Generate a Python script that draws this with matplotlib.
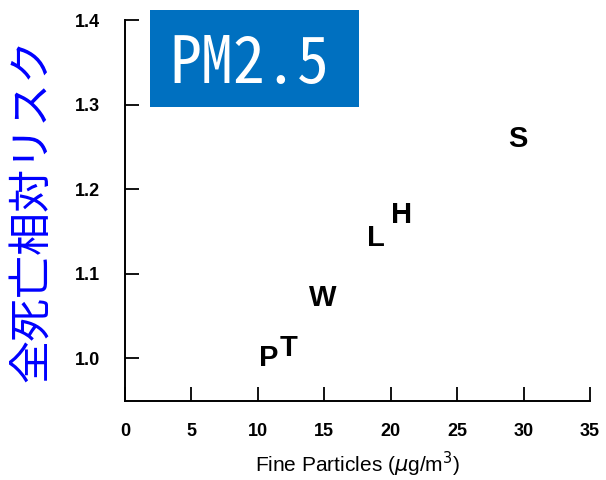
import matplotlib
matplotlib.use('Agg')
import matplotlib.pyplot as plt
from matplotlib.patches import Rectangle

# six cities: letter, fine particles, relative risk
cities = ['P', 'T', 'W', 'L', 'H', 'S']
pm25 = [10.85, 12.3, 14.9, 18.85, 20.8, 29.6]
rel_risk = [1.001, 1.012, 1.071, 1.142, 1.170, 1.259]

xticks = [0, 5, 10, 15, 20, 25, 30, 35]
yticks = [1.0, 1.1, 1.2, 1.3, 1.4]

fig = plt.figure(figsize=(6.06, 4.8), dpi=100)
ax = fig.add_axes([0.2063, 0.165, 0.7673, 0.7933])

for c, x, y in zip(cities, pm25, rel_risk):
    ax.text(x, y, c, ha='center', va='center', fontsize=21, fontweight='bold',
            family='Liberation Sans', color='black')

ax.set_xlim(0, 35)
ax.set_ylim(0.95, 1.4)
ax.set_xticks(xticks)
ax.set_yticks(yticks)
ax.set_xticklabels([str(t) for t in xticks], family='Liberation Sans',
                   fontsize=13, fontweight='bold')
ax.set_yticklabels(['%.1f' % t for t in yticks], family='Liberation Sans',
                   fontsize=13, fontweight='bold')
ax.tick_params(axis='x', direction='in', length=10, width=1.3, pad=16)
ax.tick_params(axis='y', direction='in', length=10, width=1.3, pad=18)

for s in ['top', 'right']:
    ax.spines[s].set_visible(False)
for s in ['left', 'bottom']:
    ax.spines[s].set_linewidth(1.4)

ax.set_xlabel(r'Fine Particles ($\mu$g/m$^3$)', family='Liberation Sans',
              fontsize=15, labelpad=7)
ax.set_ylabel('全死亡相対リスク', family=['Noto Sans CJK JP', 'DejaVu Sans'],
              fontsize=31, color='#0000ff')
ax.yaxis.set_label_coords(-0.1505, 0.5)

# PM2.5 badge
fig.patches.append(Rectangle((0.2475, 0.7771), 0.3449, 0.2021,
                             transform=fig.transFigure, facecolor='#0070c0',
                             edgecolor='none'))
fig.text(0.411, 0.827, 'PM2.5', color='white', fontsize=46,
         family=['Noto Sans Mono CJK JP', 'Liberation Mono', 'DejaVu Sans Mono'],
         ha='center', va='baseline')

fig.savefig('out.png', dpi=100)
